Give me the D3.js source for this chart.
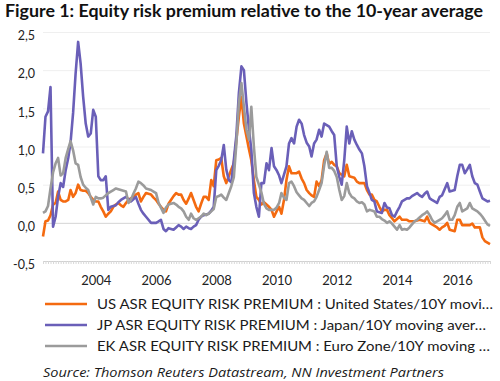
<!DOCTYPE html>
<html><head><meta charset="utf-8">
<script src="https://cdn.jsdelivr.net/npm/d3@7"></script>
<style>body{margin:0;background:#fff;} svg{display:block;font-family:Lato,"Open Sans",sans-serif;}</style>
</head><body><svg id="c" width="500" height="381"></svg>
<script>
// ---- data ----
const titleText = "Figure 1: Equity risk premium relative to the 10-year average";
const sourceText = "Source: Thomson Reuters Datastream, NN Investment Partners";
const startMonth = "2002-04";          // first monthly observation
const yTicks = [-0.5, 0, 0.5, 1, 1.5, 2, 2.5];
const xTickYears = [2004, 2006, 2008, 2010, 2012, 2014, 2016];
const seriesNames = [
  "US ASR EQUITY RISK PREMIUM : United States/10Y movi\u2026",
  "JP ASR EQUITY RISK PREMIUM : Japan/10Y moving aver\u2026",
  "EK ASR EQUITY RISK PREMIUM : Euro Zone/10Y moving \u2026"
];
const usValues = [
-0.18,0.02,0.03,0.10,0.24,0.26,0.41,0.30,0.28,0.28,0.30,0.43,0.34,0.39,0.50,0.43,0.42,0.42,0.39,0.34,
0.30,0.28,0.28,0.21,0.15,0.08,0.12,0.15,0.21,0.24,0.26,0.23,0.21,0.26,0.30,0.32,0.34,0.37,0.39,0.28,
0.34,0.39,0.38,0.37,0.33,0.30,0.25,0.21,0.17,0.15,0.25,0.30,0.35,0.39,0.37,0.37,0.30,0.25,0.32,0.39,
0.30,0.21,0.15,0.25,0.34,0.34,0.30,0.56,0.48,0.82,0.83,0.85,0.61,0.52,0.61,0.70,0.78,1.09,1.39,1.65,
1.30,1.13,0.96,0.82,0.56,0.34,0.30,0.24,0.27,0.24,0.21,0.17,0.08,0.15,0.21,0.12,0.30,0.56,0.74,0.65,
0.65,0.65,0.67,0.58,0.52,0.43,0.39,0.36,0.34,0.54,0.48,0.56,0.82,0.91,0.77,0.80,0.76,0.74,0.65,0.63,
0.61,0.76,0.61,0.60,0.59,0.54,0.52,0.52,0.52,0.43,0.37,0.37,0.30,0.28,0.21,0.15,0.17,0.17,0.10,0.06,
0.02,0.05,0.08,0.04,0.04,0.04,0.02,0.02,0.02,0.03,0.04,0.03,0.02,0.08,0.00,-0.02,-0.04,-0.06,-0.09,-0.06,
-0.04,0.00,-0.09,-0.10,-0.11,0.04,0.04,-0.03,-0.03,-0.03,-0.03,-0.01,-0.06,-0.06,-0.06,-0.19,-0.24,-0.26,-0.28
];
const jpValues = [
0.91,1.39,1.46,1.78,-0.05,0.08,0.34,0.52,0.47,0.69,0.85,1.05,1.44,1.95,2.37,2.09,1.65,1.30,1.13,1.17,
1.48,1.39,0.61,0.56,0.56,0.61,0.17,0.21,0.22,0.23,0.27,0.30,0.32,0.34,0.31,0.28,0.31,0.34,0.25,0.17,
0.12,0.08,0.04,0.00,0.00,0.00,0.02,0.04,-0.08,-0.11,-0.07,-0.08,-0.09,-0.06,-0.03,-0.05,-0.08,-0.05,-0.07,-0.08,
-0.05,-0.03,0.04,0.08,0.10,0.11,0.12,0.16,0.21,0.69,0.75,0.82,1.02,0.70,0.56,0.53,0.82,1.15,1.70,2.05,
2.00,1.57,1.22,0.96,0.39,0.21,0.08,0.52,0.52,0.78,0.69,0.98,0.74,0.69,0.62,0.52,0.63,0.74,1.04,1.11,
1.04,1.26,1.35,1.30,1.15,1.05,1.00,0.87,1.04,1.09,1.22,1.13,1.30,1.28,1.26,1.20,1.15,0.74,0.60,0.50,
0.82,1.26,1.04,1.20,1.09,1.02,0.96,0.91,0.74,0.48,0.39,0.30,0.28,0.15,0.14,0.13,0.26,0.20,0.19,0.10,
0.08,0.15,0.21,0.28,0.30,0.32,0.32,0.35,0.37,0.39,0.36,0.34,0.38,0.41,0.32,0.30,0.28,0.26,0.34,0.36,
0.44,0.52,0.41,0.42,0.43,0.61,0.76,0.76,0.65,0.70,0.76,0.61,0.52,0.50,0.41,0.32,0.30,0.28,0.29
];
const ekValues = [
0.13,0.15,0.22,0.45,0.66,0.78,0.85,0.62,0.65,0.85,0.97,1.07,0.95,0.78,0.76,0.60,0.50,0.46,0.43,0.33,
0.24,0.34,0.32,0.32,0.33,0.36,0.39,0.41,0.43,0.45,0.44,0.43,0.42,0.41,0.26,0.30,0.38,0.45,0.54,0.52,
0.49,0.45,0.44,0.43,0.41,0.39,0.26,0.20,0.13,0.20,0.24,0.25,0.26,0.24,0.21,0.19,0.15,0.08,0.04,0.12,
0.06,0.04,0.06,0.08,0.12,0.10,0.12,0.15,0.18,0.34,0.35,0.37,0.33,0.30,0.39,0.48,0.60,1.04,1.57,1.83,
1.52,1.22,1.09,1.52,1.00,0.60,0.50,0.40,0.25,0.19,0.17,0.17,0.17,0.20,0.26,0.39,0.33,0.30,0.52,0.54,
0.48,0.40,0.36,0.32,0.30,0.26,0.22,0.26,0.28,0.34,0.43,0.52,0.75,0.93,0.72,0.72,0.68,0.60,0.43,0.30,
0.35,0.52,0.39,0.34,0.32,0.28,0.26,0.27,0.24,0.15,0.17,0.16,0.15,0.08,0.08,0.05,0.03,0.00,0.02,-0.01,
-0.05,-0.09,-0.03,-0.09,-0.08,-0.09,-0.06,-0.02,0.02,0.04,0.07,0.10,0.12,0.15,0.10,0.04,0.00,0.02,0.04,0.06,
0.10,0.15,0.04,0.04,0.10,0.21,0.26,0.15,0.17,0.19,0.26,0.19,0.17,0.15,0.12,0.08,0.03,-0.02,-0.04
];

// ---- styles ----
const colors = ["#f46a10", "#6a5fb8", "#9b9b9b"];

const svg = d3.select("#c");
const parseMonth = d3.timeParse("%Y-%m");
const t0 = parseMonth(startMonth);
const allSeries = [usValues, jpValues, ekValues];
const nMonths = d3.max(allSeries, s => s.length);
const months = d3.range(nMonths).map(i => d3.timeMonth.offset(t0, i));

const plotL = 43, plotR = 490, plotT = 32, plotB = 261;
const x = d3.scaleTime().domain([months[0], months[nMonths - 1]]).range([plotL, plotR]);
const y = d3.scaleLinear().domain([-0.5, 2.5]).range([plotB, plotT]);

const loc = d3.formatLocale({decimal: ",", thousands: ".", grouping: [3], currency: ["", ""], minus: "-"});
const fmt = loc.format(".1f");

// title
svg.append("text").attr("x", 5).attr("y", 17)
  .attr("font-size", 16.5).attr("font-weight", "bold").attr("fill", "#111")
  .attr("textLength", 478).attr("lengthAdjust", "spacingAndGlyphs")
  .text(titleText);

// y axis with gridlines
const yAxis = svg.append("g").attr("transform", `translate(${plotL},0)`)
  .call(d3.axisLeft(y).tickValues(yTicks).tickSize(-(plotR - plotL)).tickPadding(8).tickFormat(fmt));
yAxis.select(".domain").remove();
yAxis.selectAll(".tick line").attr("stroke", d => d === 0 ? "#d4d4d4" : (d === -0.5 ? "#d0d0d0" : "#efefef")).attr("stroke-width", 1);
yAxis.selectAll(".tick text").attr("font-size", 12.5).attr("fill", "#222").attr("x", -8).attr("dy", "0.62em")
  .attr("font-family", "Lato, sans-serif");

// x axis: monthly minor ticks + year labels
const xMinor = svg.append("g").attr("transform", `translate(0,${plotB})`)
  .call(d3.axisBottom(x).tickValues(months).tickSize(3).tickFormat(""));
xMinor.select(".domain").attr("stroke", "#d0d0d0");
xMinor.selectAll(".tick line").attr("stroke", "#d8d8d8");

const xLab = svg.append("g").attr("transform", `translate(0,${plotB})`)
  .call(d3.axisBottom(x).tickValues(xTickYears.map(yr => new Date(yr, 0, 1))).tickSize(0).tickPadding(15).tickFormat(d3.timeFormat("%Y")));
xLab.select(".domain").remove();
xLab.selectAll(".tick text").attr("font-size", 13).attr("fill", "#222").attr("font-family", "Lato, sans-serif");

// lines
const line = d3.line().x((d, i) => x(months[i])).y(d => y(d)).curve(d3.curveLinear);
svg.append("g").selectAll("path").data(allSeries).join("path")
  .attr("d", d => line(d))
  .attr("fill", "none")
  .attr("stroke", (d, i) => colors[i])
  .attr("stroke-width", 2.6)
  .attr("stroke-linejoin", "round");

// legend
const lg = svg.append("g").selectAll("g").data(seriesNames).join("g")
  .attr("transform", (d, i) => `translate(0,${304 + i * 21})`);
lg.append("line").attr("x1", 45).attr("x2", 87).attr("y1", 0).attr("y2", 0)
  .attr("stroke", (d, i) => colors[i]).attr("stroke-width", 2.6);
lg.append("text").attr("x", 97).attr("y", 5).attr("font-size", 14).attr("fill", "#1a1a1a")
  .attr("textLength", (d, i) => [396, 389, 393][i]).attr("lengthAdjust", "spacingAndGlyphs")
  .text(d => d);

// source
svg.append("text").attr("x", 43).attr("y", 377).attr("font-size", 12.5).attr("font-style", "italic")
  .attr("font-weight", 400).attr("font-family", "'Open Sans', sans-serif").attr("fill", "#1a1a1a")
  .attr("textLength", 401).attr("lengthAdjust", "spacingAndGlyphs")
  .text(sourceText);
</script></body></html>
